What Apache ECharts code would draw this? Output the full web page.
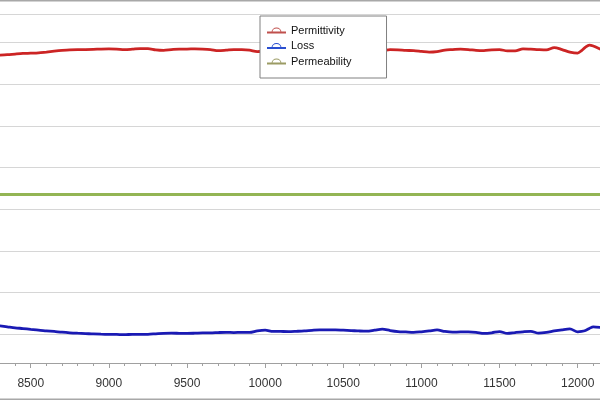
<!DOCTYPE html>
<html><head><meta charset="utf-8">
<script src="https://cdn.jsdelivr.net/npm/echarts@6/dist/echarts.min.js"></script>
<style>html,body{margin:0;padding:0;background:#fff}#c{width:600px;height:400px}</style>
</head><body><div id="c"></div>
<script>
// Frequency (x) values
const freq = [8300,8350,8400,8450,8500,8550,8600,8650,8700,8750,8800,8850,8900,8950,9000,9050,9100,9150,9200,9250,9300,9350,9400,9450,9500,9550,9600,9650,9700,9750,9800,9850,9900,9950,
10000,10050,10100,10150,10200,10250,10300,10350,10400,10450,10500,10550,10600,10650,10700,10750,10800,10850,10900,10950,11000,11050,11100,11150,11200,11250,11300,11350,11400,11450,11500,11550,11600,11650,11700,11750,11800,11850,11900,11950,12000,12025,12050,12075,12100,12150];

const permittivity = [3.348,3.352,3.360,3.367,3.370,3.374,3.384,3.394,3.403,3.410,3.413,3.414,3.416,3.420,3.422,3.420,3.413,3.418,3.425,3.425,3.410,3.404,3.413,3.420,3.420,3.422,3.420,3.414,3.400,3.406,3.414,3.413,3.406,3.390,
3.396,3.402,3.408,3.410,3.408,3.413,3.410,3.406,3.408,3.412,3.410,3.406,3.408,3.410,3.406,3.403,3.413,3.410,3.404,3.400,3.392,3.384,3.390,3.408,3.413,3.418,3.414,3.404,3.401,3.410,3.413,3.398,3.398,3.422,3.418,3.413,3.410,3.438,3.414,3.384,3.372,3.402,3.444,3.468,3.456,3.414];

const loss = [0.103,0.091,0.079,0.070,0.060,0.050,0.043,0.035,0.026,0.019,0.014,0.010,0.005,0.002,0.000,-0.001,-0.004,0.001,0.000,0.001,0.007,0.013,0.014,0.013,0.012,0.014,0.017,0.017,0.022,0.025,0.022,0.024,0.023,0.041,
0.050,0.036,0.035,0.034,0.037,0.041,0.049,0.055,0.055,0.054,0.050,0.046,0.041,0.038,0.050,0.062,0.046,0.034,0.029,0.024,0.031,0.041,0.053,0.035,0.026,0.029,0.029,0.024,0.012,0.019,0.034,0.012,0.022,0.031,0.037,0.014,0.023,0.041,0.055,0.065,0.031,0.035,0.047,0.071,0.091,0.083];

const permeability = [1.678,1.678,1.678,1.678,1.678,1.678,1.678,1.678,1.678,1.678,1.678,1.678,1.678,1.678,1.678,1.678,1.678,1.678,1.678,1.678,1.678,1.678,1.678,1.678,1.678,1.678,1.678,1.678,1.678,1.678,1.678,1.678,1.678,1.678,
1.678,1.678,1.678,1.678,1.678,1.678,1.678,1.678,1.678,1.678,1.678,1.678,1.678,1.678,1.678,1.678,1.678,1.678,1.678,1.678,1.678,1.678,1.678,1.678,1.678,1.678,1.678,1.678,1.678,1.678,1.678,1.678,1.678,1.678,1.678,1.678,1.678,1.678,1.678,1.678,1.678,1.678,1.678,1.678,1.678,1.678];

const seriesNames = ['Permittivity','Loss','Permeability'];
const xMin = 8000, xMax = 12500, xStep = 500;
const yMin = -0.343, yMax = 3.84;

const pair = arr => freq.map((f, i) => [f, arr[i]]);
const icon = 'path://M0,4 L19,4 L19,6 L0,6 Z M4.5,5 A5,5 0 0 1 14.5,5 L13.6,5 A4.1,4.1 0 0 0 5.4,5 Z';
const font = '"Liberation Sans", Arial, sans-serif';

const chart = echarts.init(document.getElementById('c'), null, {renderer: 'canvas'});
chart.setOption({
  animation: false,
  backgroundColor: '#ffffff',
  grid: {left: -47.4, right: -55.8, top: 14, bottom: 37, containLabel: false, outerBoundsMode: 'none'},
  xAxis: {
    type: 'value', min: xMin, max: xMax, interval: xStep,
    axisLine: {show: true, onZero: false, lineStyle: {color: '#a0a0a0', width: 1}},
    axisTick: {show: true, length: 5, lineStyle: {color: '#a0a0a0'}},
    minorTick: {show: true, splitNumber: 5, length: 3, lineStyle: {color: '#a0a0a0'}},
    axisLabel: {color: '#333', fontSize: 12, fontFamily: font, margin: 15, formatter: v => String(v)},
    splitLine: {show: false}
  },
  yAxis: {
    type: 'value', min: yMin, max: yMax, splitNumber: 8,
    axisLine: {show: false}, axisTick: {show: false}, axisLabel: {show: false},
    splitLine: {show: true, lineStyle: {color: '#d6d6d6', width: 1}}
  },
  legend: {
    orient: 'vertical', left: 260, top: 16,
    padding: [9, 35, 11, 7], itemGap: 4.5, itemWidth: 19, itemHeight: 6,
    backgroundColor: '#ffffff', borderColor: '#808080', borderWidth: 1, borderRadius: 0,
    textStyle: {fontFamily: font, fontSize: 11, color: '#111'},
    data: [
      {name: seriesNames[0], icon: icon, itemStyle: {color: '#c0504d', borderWidth: 0}},
      {name: seriesNames[1], icon: icon, itemStyle: {color: '#2a4fd0', borderWidth: 0}},
      {name: seriesNames[2], icon: icon, itemStyle: {color: '#9b9b64', borderWidth: 0}}
    ]
  },
  graphic: [
    {type: 'rect', silent: true, z: 100, shape: {x: 0, y: 0, width: 600, height: 1.5}, style: {fill: '#a8a8a8'}},
    {type: 'rect', silent: true, z: 100, shape: {x: 0, y: 398.5, width: 600, height: 1.5}, style: {fill: '#a8a8a8'}}
  ],
  series: [
    {name: seriesNames[2], type: 'line', data: pair(permeability), showSymbol: false, symbol: 'none',
     lineStyle: {color: '#93b554', width: 3}, itemStyle: {color: '#93b554'}, z: 2},
    {name: seriesNames[0], type: 'line', data: pair(permittivity), showSymbol: false, symbol: 'none', smooth: 0.3,
     lineStyle: {color: '#cc2424', width: 2.8}, itemStyle: {color: '#cc2424'}, z: 3},
    {name: seriesNames[1], type: 'line', data: pair(loss), showSymbol: false, symbol: 'none', smooth: 0.3,
     lineStyle: {color: '#1a1ab4', width: 2.8}, itemStyle: {color: '#1a1ab4'}, z: 3}
  ]
});
</script>
</body></html>
